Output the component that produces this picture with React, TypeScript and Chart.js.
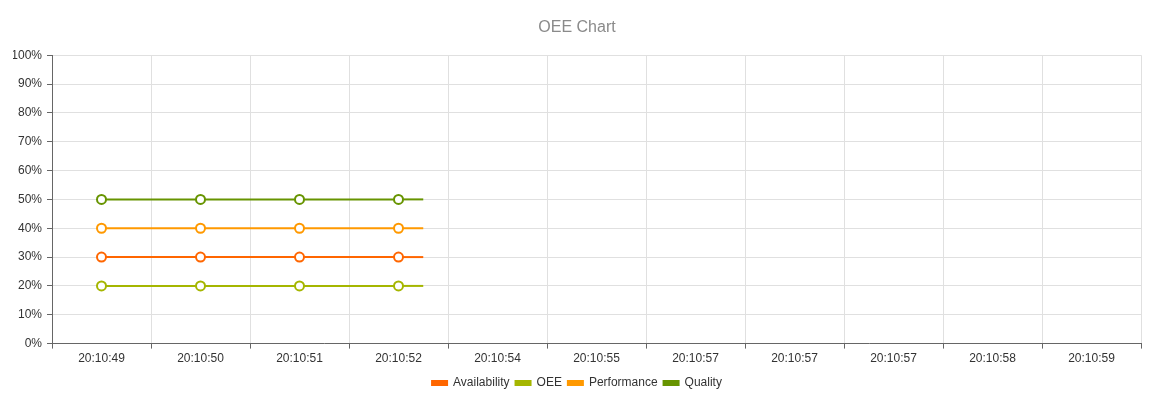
import React, { useEffect, useRef } from "react";
import { Chart, registerables } from "chart.js";

Chart.register(...registerables);

const categories = [
  "20:10:49", "20:10:50", "20:10:51", "20:10:52", "20:10:54", "20:10:55",
  "20:10:57", "20:10:57", "20:10:57", "20:10:58", "20:10:59",
];
const availability = [30, 30, 30, 30];
const oee = [20, 20, 20, 20];
const performance = [40, 40, 40, 40];
const quality = [50, 50, 50, 50];
// trailing line segment seen past the last point (in category units)
const tailLength = 0.25;

const seriesNames = ["Availability", "OEE", "Performance", "Quality"];
const seriesColors = ["#ff6600", "#a5b600", "#ff9900", "#679400"];

const tailPlugin = {
  id: "tail",
  afterDatasetsDraw(chart: any) {
    const ctx = chart.ctx;
    const xs = chart.scales.x;
    chart.data.datasets.forEach((ds: any, i: number) => {
      const meta = chart.getDatasetMeta(i);
      const pts = meta.data;
      if (!pts.length) return;
      const last = pts[pts.length - 1];
      const x2 = xs.getPixelForValue(pts.length - 1 + tailLength);
      ctx.save();
      ctx.strokeStyle = ds.borderColor;
      ctx.lineWidth = ds.borderWidth;
      ctx.beginPath();
      ctx.moveTo(last.x + ds.pointRadius, last.y);
      ctx.lineTo(x2, last.y);
      ctx.stroke();
      ctx.restore();
    });
  },
};

export default function App() {
  const ref = useRef<HTMLCanvasElement>(null);
  useEffect(() => {
    const values = [availability, oee, performance, quality];
    const chart = new Chart(ref.current!, {
      type: "line",
      data: {
        labels: categories,
        datasets: seriesNames.map((name, i) => ({
          label: name,
          data: values[i],
          borderColor: seriesColors[i],
          backgroundColor: seriesColors[i],
          borderWidth: 2,
          pointRadius: 4.5,
          pointHoverRadius: 4.5,
          pointBorderWidth: 2,
          pointBackgroundColor: "#ffffff",
          pointBorderColor: seriesColors[i],
          tension: 0,
        })),
      },
      options: {
        animation: false,
        responsive: false,
        layout: { padding: { left: 13, right: 32, top: 0, bottom: -2 } },
        plugins: {
          title: {
            display: true,
            text: "OEE Chart",
            color: "#8a8a8a",
            font: { family: "'Liberation Sans', Arial, sans-serif", size: 16, weight: "normal" },
            padding: { top: 18, bottom: 18 },
          },
          legend: {
            position: "bottom",
            labels: {
              boxWidth: 15,
              boxHeight: 4,
              padding: 6,
              color: "#333333",
              font: { family: "'Liberation Sans', Arial, sans-serif", size: 12 },
            },
          },
          tooltip: { enabled: false },
        },
        scales: {
          x: {
            offset: true,
            afterFit: (s: any) => { s.height += 2; },
            grid: { offset: true, color: "#e0e0e0", tickLength: 5, tickColor: "#666666" },
            border: { color: "#666666" },
            ticks: {
              autoSkip: false,
              maxRotation: 0,
              padding: 3,
              color: "#333333",
              font: { family: "'Liberation Sans', Arial, sans-serif", size: 12 },
            },
          },
          y: {
            min: 0,
            max: 100,
            afterFit: (s: any) => { s.width = 39; },
            grid: { color: "#e0e0e0", tickLength: 5, tickColor: "#666666" },
            border: { color: "#666666" },
            ticks: {
              stepSize: 10,
              padding: 5,
              color: "#333333",
              font: { family: "'Liberation Sans', Arial, sans-serif", size: 12 },
              callback: (v: any) => v + "%",
            },
          },
        },
      },
      plugins: [tailPlugin],
    });
    return () => chart.destroy();
  }, []);
  return (
    <div style={{ position: "fixed", left: 0, top: 0, width: 1173, height: 397, background: "#fff" }}>
      <canvas ref={ref} width={1173} height={397} />
    </div>
  );
}
